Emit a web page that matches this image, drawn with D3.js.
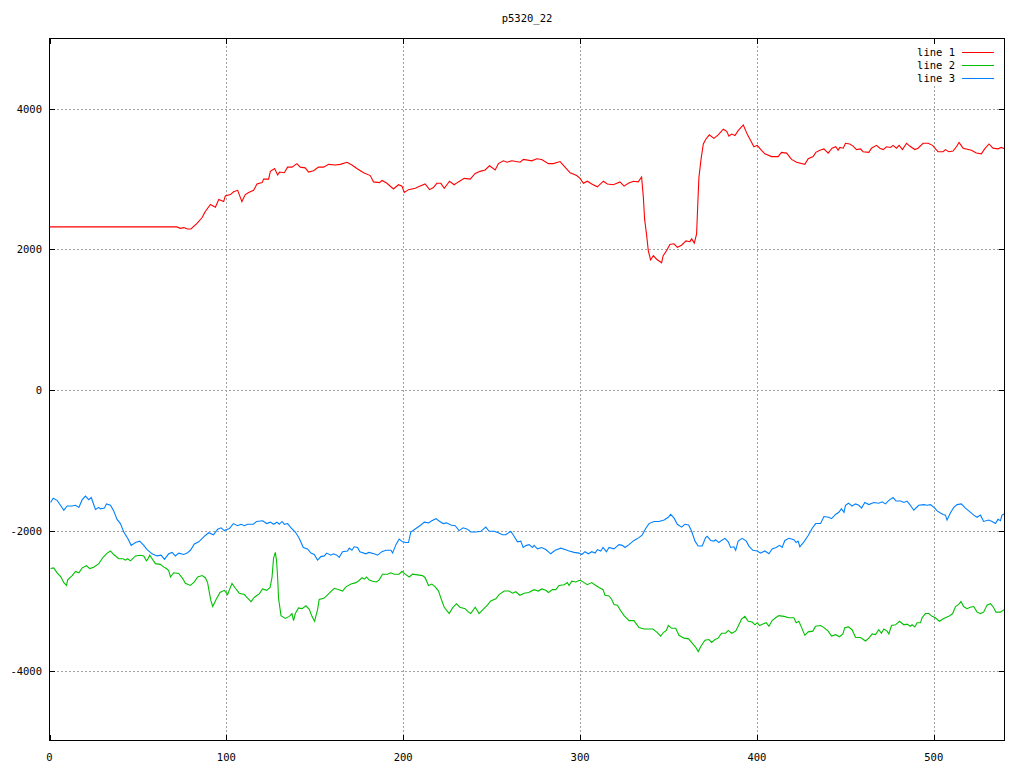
<!DOCTYPE html>
<html>
<head>
<meta charset="utf-8">
<script src="https://cdn.jsdelivr.net/npm/d3@7"></script>
<style>
  html, body { margin: 0; padding: 0; background: #fff; }
  svg { display: block; }
  text { font-family: "DejaVu Sans Mono", "Liberation Mono", monospace; font-size: 10.5px; fill: #000; }
</style>
</head>
<body>
<svg id="chart" width="1024" height="768"></svg>
<script>
const chartTitle = "p5320_22";
const seriesNames = ["line 1", "line 2", "line 3"];
const seriesColors = ["#ff0000", "#00c000", "#0080ff"];
const xTicks = [0, 100, 200, 300, 400, 500];
const yTicks = [-4000, -2000, 0, 2000, 4000];
const xDomain = [0, 540];
const yDomain = [-5000, 5000];

// line 1 (red)
const line1X = [0,72,74,76,78,80,83.4,86.2,88.1,91,93.8,95.7,98.5,99.4,102.3,104.1,106.4,108.8,110.7,112.6,115.4,117.3,120.2,121.1,123.9,124.9,127.3,129,130.1,132.8,134.6,137.1,139.9,141.8,144.6,146.5,149.3,152.1,155,157.8,161.6,164.4,168.2,171,173.8,177.6,181.4,183.2,186.6,188,190.8,194.5,197.3,199.3,200.6,203,206.8,208.6,212.4,214.9,217.1,219,221.3,223.2,226.2,228.8,231.2,234.5,237.9,240.7,243.5,246.3,248.8,252,253.8,256.7,258.6,261.4,266.1,268,272.7,275.5,278.3,282.1,284.9,288.7,291.5,294.4,298.1,300,301.9,304.1,306.6,309.8,313.2,315.4,318.8,322.6,324.9,327.3,330.1,332.9,334.8,335.8,336.5,337.7,338.6,339.9,341.4,343.3,346.1,347,348.9,350.8,353.1,355,357.4,359.9,362.1,363.1,364.6,365.9,366.5,367.2,368.4,369.7,371.2,373.1,375.7,378.1,381,382.9,384.2,385.7,387.6,389.4,392.3,394.5,396,398.3,400.2,402.6,404.5,408.3,412,413.9,416.8,419.6,422.4,427.1,429,431.8,433.3,435.6,437.9,440.3,442.5,444.6,445.9,446.9,448.8,450.1,452.5,454.4,456.3,458.6,460,463.3,464.8,467.6,469.5,471.4,473.3,475.5,477,478.9,480.4,482.3,484.6,486.4,489.3,491.1,494,496.8,499.3,502.4,505.3,506.6,508.5,510.9,512.8,514.3,516.6,521.3,524.1,526.9,528.8,531.2,533.5,536.3,538.2,540];
const line1Y = [2320,2320,2300,2310,2290,2290,2370,2450,2540,2640,2600,2710,2680,2760,2780,2820,2840,2680,2780,2810,2840,2930,2950,3000,3000,3110,3150,3060,3100,3090,3170,3170,3220,3170,3160,3100,3120,3170,3170,3210,3200,3210,3240,3200,3150,3090,3050,2960,2950,2980,2940,2860,2920,2900,2810,2850,2870,2890,2930,2850,2880,2940,2940,2870,2970,2920,2960,3010,3000,3080,3110,3130,3190,3130,3220,3260,3240,3260,3240,3280,3260,3290,3280,3220,3220,3250,3170,3090,3050,3010,2940,2970,2930,2890,2970,2930,2920,2960,2900,2940,2970,2960,3030,2740,2430,2190,1980,1850,1910,1860,1810,1910,1980,2070,2080,2030,2060,2120,2110,2150,2090,2220,2600,3020,3280,3500,3570,3630,3580,3630,3710,3680,3610,3640,3620,3690,3770,3640,3570,3460,3480,3410,3360,3320,3320,3380,3370,3280,3240,3210,3290,3320,3380,3410,3430,3370,3440,3460,3410,3450,3440,3510,3500,3470,3420,3430,3390,3380,3440,3480,3440,3420,3460,3450,3480,3440,3480,3420,3510,3470,3420,3440,3510,3510,3480,3390,3390,3420,3390,3400,3460,3520,3440,3410,3370,3360,3430,3500,3440,3430,3450,3430];

// line 2 (green)
const line2X = [0.6,2.4,4.3,6.2,8.1,9.6,10.3,12.8,14.7,16.6,18.5,20.9,22.8,25,27.9,30.3,32.6,34.5,36.3,39.2,41.6,42.9,44.2,45.8,48.6,51.4,53.3,54.8,55.5,56.7,58,59.9,62.7,64.6,66.1,67.4,68.4,70.2,73.1,75.5,76.8,79.7,81.9,83.8,86.3,88.1,89.4,90.6,91.3,92.3,94.2,96.4,98.9,100.7,103.2,105.1,107.3,110.2,112,114,115.4,116.8,118.6,120.5,122.8,124.7,125.8,126.7,127.7,128.4,129,129.5,130.9,133.3,135.6,137.1,138,139,140.8,142.8,145,146.9,148.4,149.9,151.6,152.5,155.4,158.2,161,163.8,165.7,167.6,170.5,173.3,175.1,176.7,178,179.3,180.6,182.7,184.9,186.4,188.3,191.1,193,194.9,197.7,199.3,201.1,203.4,205.3,208.1,210.9,212.4,214.3,216.2,218.1,220,221.3,223.2,226,227.9,230.1,232,235,236.9,238.2,240.7,242.9,245.2,247.6,249.5,252.4,254.2,257.1,259.9,261.8,263.7,265.9,268.4,271,274,276.4,278.3,280.6,282.1,284.4,286.3,288.1,291,292.8,293.8,295.3,297.6,299.4,300.4,302.3,304.1,306.6,308.9,310.7,313,314.1,316.4,317.9,319.2,321.1,323,324.9,327.7,330.5,333.3,336.2,339,341.2,343.7,345.6,347.1,348.8,349.9,351.8,354.1,355.9,358.8,361.4,363.4,365.4,366.8,368.7,370.6,372.9,374.4,376.3,378.1,380,382.3,383.8,385.7,388,389.4,391.3,393.2,395.1,397.3,398.9,400.2,401.5,403.4,405.3,406.8,408.6,410.6,412.4,415.3,418.1,420.9,422.2,423.7,425.3,427.1,429,431.6,433.2,436,437.9,440.3,442.2,444.5,446.7,448.6,449.7,451.8,453.8,455.8,458.6,461.4,463.3,465.2,467.1,468.9,470.4,471.8,473.6,474.6,476.1,478.4,480.6,483.1,484.9,486.8,487.7,489.3,490.6,492.5,493.4,495.3,497.2,499,500.9,503.2,505.6,508.5,510.7,512.3,514.1,515.4,516.9,518.8,520.7,522.6,524.5,526.4,528.2,530.1,532,533.5,535.2,537.7,540];
const line2Y = [-2540,-2530,-2600,-2650,-2740,-2780,-2700,-2640,-2580,-2600,-2530,-2500,-2540,-2520,-2470,-2380,-2320,-2290,-2340,-2400,-2400,-2420,-2400,-2430,-2360,-2350,-2360,-2430,-2410,-2350,-2400,-2470,-2480,-2520,-2540,-2570,-2660,-2600,-2610,-2690,-2750,-2780,-2730,-2660,-2640,-2670,-2740,-2910,-3000,-3080,-2980,-2880,-2850,-2910,-2750,-2820,-2890,-2910,-2960,-3010,-2960,-2930,-2900,-2830,-2850,-2810,-2670,-2390,-2310,-2430,-2670,-2960,-3210,-3250,-3220,-3180,-3280,-3180,-3100,-3110,-3070,-3120,-3220,-3290,-3120,-2980,-2960,-2890,-2820,-2840,-2860,-2800,-2760,-2740,-2710,-2670,-2690,-2660,-2700,-2720,-2730,-2700,-2620,-2620,-2600,-2620,-2620,-2580,-2620,-2660,-2620,-2630,-2640,-2670,-2780,-2760,-2800,-2860,-2960,-3090,-3180,-3100,-3040,-3090,-3110,-3160,-3180,-3090,-3180,-3120,-3060,-3000,-2970,-2910,-2860,-2860,-2890,-2870,-2920,-2890,-2880,-2840,-2860,-2830,-2850,-2880,-2840,-2840,-2780,-2770,-2740,-2780,-2720,-2730,-2710,-2710,-2740,-2770,-2740,-2780,-2810,-2840,-2920,-2930,-2980,-3050,-3060,-3140,-3210,-3280,-3280,-3380,-3400,-3400,-3400,-3450,-3500,-3450,-3420,-3350,-3390,-3390,-3490,-3530,-3540,-3600,-3660,-3720,-3630,-3560,-3550,-3590,-3550,-3530,-3460,-3460,-3420,-3460,-3430,-3360,-3260,-3220,-3290,-3300,-3340,-3310,-3350,-3330,-3310,-3360,-3280,-3240,-3210,-3220,-3240,-3240,-3310,-3290,-3380,-3490,-3440,-3430,-3360,-3350,-3380,-3430,-3500,-3480,-3510,-3470,-3380,-3370,-3410,-3520,-3520,-3570,-3530,-3470,-3480,-3410,-3460,-3400,-3430,-3470,-3350,-3340,-3290,-3340,-3330,-3360,-3340,-3370,-3310,-3310,-3240,-3180,-3180,-3220,-3240,-3290,-3250,-3220,-3180,-3080,-3050,-3010,-3080,-3110,-3090,-3080,-3160,-3180,-3160,-3060,-3040,-3080,-3160,-3160,-3120];

// line 3 (blue)
const line3X = [0.6,2.1,4.3,6.2,8.1,10,12.8,14.7,16.6,18.5,20.3,22.2,23.6,26,27.9,28.8,31.1,32.2,34.5,36.3,38.2,40.1,42,44.2,46.2,48.6,51,53.3,55.2,58,60.8,63.1,65,67.4,69.3,71.2,73.1,75.9,77.8,79.7,81.9,84.4,87.2,90,92.7,95.1,97,98.9,101.7,104,106.4,108.3,110.2,112,115.3,117.1,120.5,122.8,124.9,126.7,128.6,129.9,131.5,132.8,134.6,136.6,139,141.2,143.5,145.9,147.8,149.7,151.6,153.5,155.4,156.7,159.1,160.5,162.5,163.8,165.7,168.5,169.5,171,172.3,174.2,175.5,178.9,180.6,183.6,185.5,188,190.2,193.1,194,195.9,197.7,199.6,201.5,203,204.3,207.2,210,211.9,214.3,216.2,218.5,220.7,222.6,224.5,226.9,229.4,231.6,233.9,236.3,238.2,241.1,243.9,246.7,248.6,251.4,253.8,256.1,258,260.8,262.7,264.6,266.5,267.8,269.7,271.2,273.1,274,275.9,278.3,280.6,283.4,285.9,289.1,291.5,293.8,296.6,299.4,301,302.8,304.7,306.6,308.5,309.8,311.7,313,314.9,316.4,319.2,322,323.9,325.4,327.7,330.5,333.3,335.2,337.1,339,341.8,344.6,347.5,349.9,351.2,353.1,355,357.4,359.3,361.4,363.1,365,366.8,369.1,371,371.9,373.8,375.7,376.6,378.5,380,381.9,383.8,385.1,387,388,389.4,391.7,394,395.5,397.7,400.2,402.1,404.5,406.8,408.6,410.9,412.8,414.3,415.8,418.1,420.9,422.2,423.3,424.3,426.6,429,431.2,433.2,436,437.9,440.7,442.2,444.5,446.3,447.8,449.2,450.1,451.8,453.8,455.8,457.6,459.2,461,463.3,466.1,468.9,470.8,472.7,474.6,477,478.7,481.2,483.1,484.9,486.8,488.7,491.5,494.4,496.2,498.1,500.6,501.9,503.8,505.3,506.6,507.5,509.4,511.3,513.2,515.6,517.9,519.8,522.6,524.5,526.4,528.2,531.1,533,534.9,536.3,537.7,538.6,540];
const line3Y = [-1600,-1540,-1570,-1640,-1710,-1650,-1650,-1640,-1670,-1560,-1510,-1560,-1530,-1700,-1670,-1690,-1680,-1620,-1640,-1720,-1840,-1900,-2020,-2110,-2210,-2170,-2150,-2210,-2270,-2330,-2360,-2350,-2410,-2330,-2310,-2360,-2320,-2340,-2320,-2280,-2190,-2160,-2090,-2030,-2060,-1980,-1960,-2000,-1970,-1900,-1930,-1910,-1930,-1910,-1910,-1870,-1860,-1900,-1880,-1910,-1880,-1910,-1870,-1910,-1900,-1960,-2020,-2110,-2240,-2260,-2320,-2340,-2420,-2370,-2360,-2320,-2350,-2330,-2350,-2380,-2300,-2290,-2250,-2280,-2230,-2240,-2300,-2330,-2310,-2330,-2350,-2300,-2280,-2280,-2320,-2200,-2120,-2160,-2170,-2170,-2020,-1970,-1920,-1880,-1890,-1860,-1830,-1870,-1900,-1890,-1920,-1930,-2000,-1960,-1980,-2020,-2020,-2010,-1950,-2010,-2010,-2030,-2060,-2060,-2010,-2080,-2160,-2150,-2240,-2210,-2200,-2240,-2210,-2260,-2240,-2270,-2330,-2280,-2250,-2270,-2290,-2310,-2320,-2340,-2300,-2330,-2300,-2320,-2270,-2290,-2240,-2300,-2240,-2260,-2200,-2210,-2240,-2200,-2140,-2100,-2060,-1970,-1900,-1870,-1870,-1850,-1810,-1770,-1820,-1910,-1950,-1910,-1920,-2010,-2150,-2220,-2220,-2100,-2080,-2140,-2150,-2130,-2170,-2140,-2110,-2160,-2240,-2230,-2280,-2150,-2110,-2150,-2220,-2280,-2290,-2320,-2290,-2330,-2260,-2240,-2210,-2240,-2140,-2110,-2130,-2170,-2150,-2230,-2160,-2070,-1970,-1900,-1900,-1800,-1810,-1830,-1770,-1740,-1690,-1740,-1640,-1610,-1650,-1620,-1640,-1680,-1600,-1630,-1600,-1610,-1590,-1620,-1570,-1530,-1580,-1580,-1600,-1580,-1640,-1710,-1640,-1630,-1640,-1630,-1680,-1720,-1750,-1770,-1780,-1850,-1750,-1670,-1630,-1620,-1680,-1720,-1780,-1810,-1780,-1870,-1850,-1870,-1900,-1840,-1860,-1780,-1760];

const seriesX = [line1X, line2X, line3X];
const seriesY = [line1Y, line2Y, line3Y];

const W = 1024, H = 768;
const margin = { left: 49, right: 19, top: 38, bottom: 27 };
const svg = d3.select("#chart");

const x = d3.scaleLinear().domain(xDomain).range([margin.left + 0.5, W - margin.right - 0.5]);
const y = d3.scaleLinear().domain(yDomain).range([H - margin.bottom + 0.5, margin.top + 0.5]);

const x0 = margin.left, x1 = W - margin.right, y0 = margin.top, y1 = H - margin.bottom;

// clip path
svg.append("defs").append("clipPath").attr("id", "plotclip")
  .append("rect").attr("x", x0).attr("y", y0).attr("width", x1 - x0).attr("height", y1 - y0);

// grid
const grid = svg.append("g").attr("stroke", "#a0a0a0").attr("stroke-width", 1).attr("stroke-dasharray", "2,2");
xTicks.filter(t => t > xDomain[0] && t < xDomain[1]).forEach(t => {
  const px = Math.round(x(t)) + 0.5;
  grid.append("line").attr("x1", px).attr("x2", px).attr("y1", y0).attr("y2", y1);
});
yTicks.forEach(t => {
  const py = Math.round(y(t)) + 0.5;
  grid.append("line").attr("x1", x0).attr("x2", x1).attr("y1", py).attr("y2", py);
});

// legend background (covers grid)
svg.append("rect").attr("x", 912).attr("y", 43).attr("width", 88).attr("height", 42).attr("fill", "#fff");

// series lines
const plot = svg.append("g").attr("clip-path", "url(#plotclip)");
seriesNames.forEach((name, i) => {
  const pts = seriesX[i].map((xv, j) => [xv, seriesY[i][j]]);
  const lineGen = d3.line().x(d => x(d[0])).y(d => y(d[1]));
  plot.append("path").datum(pts)
    .attr("fill", "none").attr("stroke", seriesColors[i]).attr("stroke-width", 1.1)
    .attr("d", lineGen);
});

// frame
svg.append("rect").attr("x", x0 + 0.5).attr("y", y0 + 0.5).attr("width", x1 - x0 - 1).attr("height", y1 - y0 - 1)
  .attr("fill", "none").attr("stroke", "#000").attr("stroke-width", 1);

// ticks (inward, mirrored)
const tk = svg.append("g").attr("stroke", "#000").attr("stroke-width", 1);
const tlen = 6;
xTicks.forEach(t => {
  const px = Math.round(x(t)) + 0.5;
  tk.append("line").attr("x1", px).attr("x2", px).attr("y1", y1).attr("y2", y1 - tlen);
  tk.append("line").attr("x1", px).attr("x2", px).attr("y1", y0).attr("y2", y0 + tlen);
});
yTicks.forEach(t => {
  const py = Math.round(y(t)) + 0.5;
  tk.append("line").attr("x1", x0).attr("x2", x0 + tlen).attr("y1", py).attr("y2", py);
  tk.append("line").attr("x1", x1).attr("x2", x1 - tlen).attr("y1", py).attr("y2", py);
});

// tick labels
xTicks.forEach(t => {
  svg.append("text").attr("x", x(t)).attr("y", 757).attr("text-anchor", "middle")
    .attr("dominant-baseline", "central").text(t);
});
yTicks.forEach(t => {
  svg.append("text").attr("x", 42).attr("y", y(t)).attr("text-anchor", "end")
    .attr("dominant-baseline", "central").text(t);
});

// title
svg.append("text").attr("x", (x0 + x1) / 2).attr("y", 18).attr("text-anchor", "middle")
  .attr("dominant-baseline", "central").text(chartTitle);

// legend
seriesNames.forEach((name, i) => {
  const ly = 51.5 + i * 13;
  svg.append("text").attr("x", 955).attr("y", ly).attr("text-anchor", "end")
    .attr("dominant-baseline", "central").text(name);
  svg.append("line").attr("x1", 962).attr("x2", 994).attr("y1", Math.round(ly) + 0.5).attr("y2", Math.round(ly) + 0.5)
    .attr("stroke", seriesColors[i]).attr("stroke-width", 1);
});
</script>
</body>
</html>
